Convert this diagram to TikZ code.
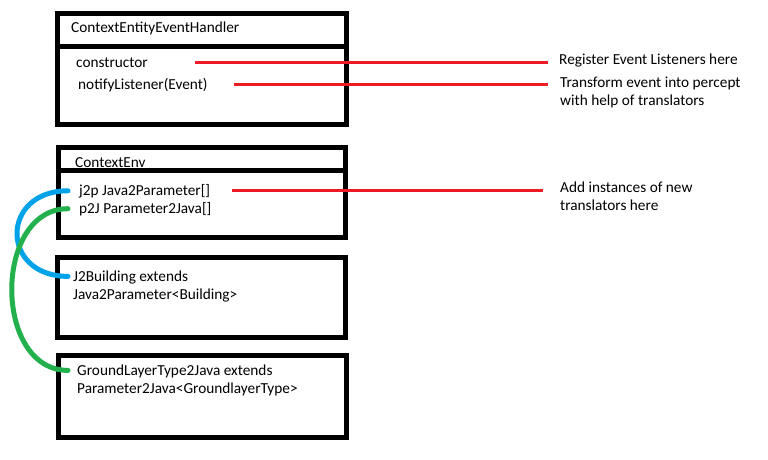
\documentclass[tikz,border=0pt]{standalone}
\usepackage{fontspec}
\setmainfont{Carlito}
\usepackage{xcolor}
\definecolor{pred}{HTML}{ED1C24}
\definecolor{pblue}{HTML}{00A2E8}
\definecolor{pgreen}{HTML}{22B14C}
\tikzset{
  box/.style={draw, line width=5pt, inner sep=0pt},
  boxline/.style={line width=5pt},
  txt/.style={inner sep=0pt, anchor=base west, align=left,
    font=\fontsize{15.3}{17.8}\selectfont},
  note/.style={draw=pred, line width=3pt},
  link/.style={line width=5pt, line cap=round},
}
\begin{document}
\begin{tikzpicture}[x=1pt, y=-1pt]
          \useasboundingbox (0,0) rectangle (768,460);
          % class boxes
          \node[box, minimum width=289pt, minimum height=110pt] (handlerbox) at (201.5,69) {};
          \draw[boxline] (handlerbox.west |- 0,47) -- (handlerbox.east |- 0,47);
          \node[box, minimum width=287.5pt, minimum height=90pt] (envbox) at (201.75,192.5) {};
          \draw[boxline] (envbox.west |- 0,170.5) -- (envbox.east |- 0,170.5);
          \node[box, minimum width=288pt, minimum height=80pt] (buildbox) at (201.5,297.5) {};
          \node[box, minimum width=288pt, minimum height=82pt] (groundbox) at (202.5,396.5) {};
          % texts (two-line nodes sit on their last line)
          \node[txt] (handler) at (71,33) {ContextEntityEventHandler};
          \node[txt] (ctor) at (76,67) {constructor};
          \node[txt] (notify) at (78,89) {notifyListener(Event)};
          \node[txt] (env) at (75,167) {ContextEnv};
          \node[txt] (jtop) at (79,195) {j2p Java2Parameter[]};
          \node[txt] (ptoj) at (79,213) {p2J Parameter2Java[]};
          \node[txt] (jbuild) at (73,299) {J2Building extends\\Java2Parameter<Building>};
          \node[txt] (ground) at (77,393) {GroundLayerType2Java extends\\Parameter2Java<GroundlayerType>};
          % notes
          \node[txt] (register) at (559,64) {Register Event Listeners here};
          \node[txt] (transform) at (560,105) {Transform event into percept\\with help of translators};
          \node[txt] (addinst) at (560,210) {Add instances of new\\translators here};
          \draw[note] ([xshift=47pt]ctor.east) -- ([xshift=-11pt]register.west |- ctor.east);
          \draw[note] ([xshift=26pt]notify.east) -- ([xshift=-12pt]transform.west |- notify.east);
          \draw[note] ([xshift=22pt]jtop.east) -- ([xshift=-17pt]addinst.west |- jtop.east);
          % links
          \draw[link, pblue] ([xshift=-11pt]jtop.west) .. controls +(-68,0) and +(-68,0) .. ([xshift=-5pt,yshift=-6pt]jbuild.north west);
          \draw[link, pgreen] ([xshift=-11pt]ptoj.west) .. controls +(-75,0) and +(-75,0) .. ([xshift=-9pt,yshift=-6pt]ground.north west);
      \end{tikzpicture}
\end{document}
